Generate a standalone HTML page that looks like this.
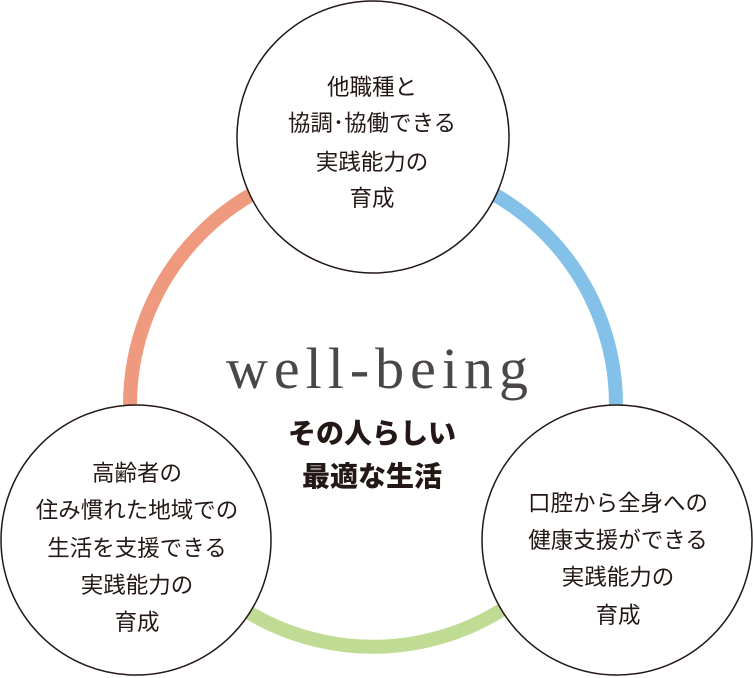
<!DOCTYPE html>
<html><head><meta charset="utf-8"><style>
html,body{margin:0;padding:0;background:#fff;}
svg{display:block;}
.t{font-family:"Liberation Sans","Noto Sans CJK JP",sans-serif;font-size:22.5px;fill:#231815;text-anchor:middle;}
.b{font-family:"Liberation Sans","Noto Sans CJK JP",sans-serif;font-size:28px;font-weight:900;fill:#231815;text-anchor:middle;}
.w{font-family:"Liberation Serif","DejaVu Serif",serif;font-size:58px;fill:#4a4746;text-anchor:middle;letter-spacing:6px;}
</style></head><body>
<svg width="753" height="678" viewBox="0 0 753 678">
<g fill="none" stroke-width="14">
<path d="M130 405 A243 243 0 0 1 373 162" stroke="#ef9a7e"/>
<path d="M373 162 A243 243 0 0 1 616 405" stroke="#84c1e8"/>
<path d="M163 526 A243 243 0 0 0 583 526" stroke="#c0dc94"/>
</g>
<g fill="#fff" stroke="#231815" stroke-width="1.5">
<circle cx="373" cy="137" r="136"/>
<circle cx="136" cy="540" r="135"/>
<circle cx="617" cy="540" r="135"/>
</g>
<text class="w" x="380" y="388">well-being</text>
<text class="b" x="372" y="443">その人らしい</text>
<text class="b" x="372" y="486">最適な生活</text>
<g class="t">
<text x="372" y="95">他職種と</text>
<text x="372" y="131">協調･協働できる</text>
<text x="372" y="170">実践能力の</text>
<text x="372" y="206">育成</text>
<text x="137" y="481">高齢者の</text>
<text x="137" y="518">住み慣れた地域での</text>
<text x="137" y="556">生活を支援できる</text>
<text x="137" y="593">実践能力の</text>
<text x="137" y="630">育成</text>
<text x="618" y="511">口腔から全身への</text>
<text x="618" y="548">健康支援ができる</text>
<text x="618" y="585">実践能力の</text>
<text x="618" y="623">育成</text>
</g>
</svg>
</body></html>
